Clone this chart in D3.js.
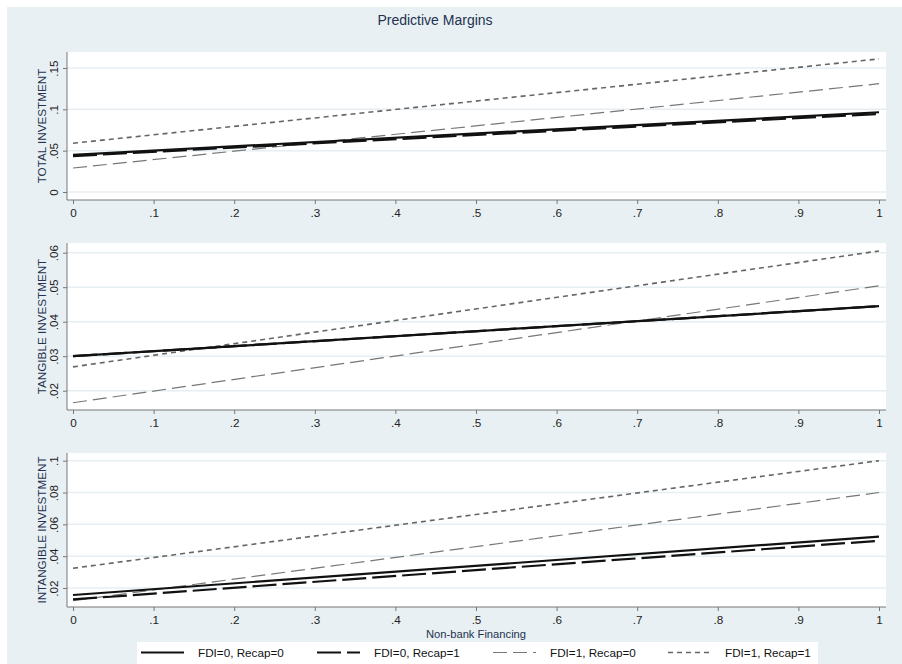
<!DOCTYPE html>
<html><head><meta charset="utf-8">
<script src="https://cdn.jsdelivr.net/npm/d3@7"></script>
<style>body{margin:0;background:#fff;}svg{display:block;font-family:"Liberation Sans",Arial,sans-serif;}</style>
</head><body><div id="chart"></div>
<script>
const xVals = [0, 1];
const xTicks = [0, .1, .2, .3, .4, .5, .6, .7, .8, .9, 1];
const seriesNames = ["FDI=0, Recap=0", "FDI=0, Recap=1", "FDI=1, Recap=0", "FDI=1, Recap=1"];
const panelTitles = ["TOTAL INVESTMENT", "TANGIBLE INVESTMENT", "INTANGIBLE INVESTMENT"];
const totalVals = [[0.045, 0.0965], [0.0435, 0.0945], [0.029, 0.131], [0.059, 0.161]];
const tangibleVals = [[0.0300, 0.0445], [0.0300, 0.0445], [0.0165, 0.0504], [0.0269, 0.0605]];
const intangibleVals = [[0.0156, 0.0523], [0.0128, 0.0497], [0.0120, 0.0800], [0.0324, 0.1000]];
const totalTicks = [0, .05, .1, .15];
const tangibleTicks = [.02, .03, .04, .05, .06];
const intangibleTicks = [.02, .04, .06, .08, .1];
const fmt = v => { let s = d3.format("")(+v.toFixed(4)); return s.replace(/^0\./, "."); };

const W = 902, H = 664, FS = 11.7;
const svg = d3.select("#chart").append("svg").attr("width", W).attr("height", H);
svg.append("rect").attr("x", 7).attr("y", 7).attr("width", W - 7).attr("height", H - 7).attr("fill", "#e8f0f3");
svg.append("text").attr("x", 435).attr("y", 25).attr("text-anchor", "middle")
  .attr("font-size", 14).attr("fill", "#23324f").text("Predictive Margins");

const styles = [
  {stroke: "#111", width: 2.2, dash: null},
  {stroke: "#111", width: 2.2, dash: "24,6"},
  {stroke: "#777", width: 1.2, dash: "14,6"},
  {stroke: "#666", width: 1.6, dash: "5,4"}
];

const left = 67, right = 886;
const x = d3.scaleLinear().domain([0, 1]).range([73, 879]);

const panels = [
  {vals: totalVals, ticks: totalTicks, dom: [0, .15], rng: [192, 68], top: 52, bot: 200},
  {vals: tangibleVals, ticks: tangibleTicks, dom: [.02, .06], rng: [390.7, 252.7], top: 243, bot: 410},
  {vals: intangibleVals, ticks: intangibleTicks, dom: [.02, .1], rng: [588, 460.7], top: 453, bot: 607}
];

panels.forEach((p, i) => {
  const y = d3.scaleLinear().domain(p.dom).range(p.rng);
  const g = svg.append("g");
  g.append("rect").attr("x", left).attr("y", p.top).attr("width", right - left).attr("height", p.bot - p.top).attr("fill", "#fff");
  g.selectAll(".grid").data(p.ticks).join("line")
    .attr("x1", left).attr("x2", right).attr("y1", d => y(d)).attr("y2", d => y(d))
    .attr("stroke", "#e6eef2").attr("stroke-width", 1.5);
  const ya = g.append("g").attr("transform", `translate(${left},0)`)
    .call(d3.axisLeft(y).tickValues(p.ticks).tickSize(4).tickFormat(fmt));
  ya.select(".domain").attr("d", `M0,${p.top}V${p.bot}`).attr("stroke", "#777");
  ya.selectAll(".tick line").attr("stroke", "#777");
  ya.selectAll(".tick text").attr("text-anchor", "middle").attr("x", 0).attr("y", 0).attr("dy", 0)
    .attr("transform", "translate(-9,0) rotate(-90)")
    .attr("font-size", FS).attr("fill", "#222").attr("font-family", "Liberation Sans, Arial, sans-serif");
  const xa = g.append("g").attr("transform", `translate(0,${p.bot})`)
    .call(d3.axisBottom(x).tickValues(xTicks).tickSize(4).tickFormat(fmt));
  xa.select(".domain").attr("d", `M${left},0H${right}`).attr("stroke", "#777");
  xa.selectAll(".tick line").attr("stroke", "#777");
  xa.selectAll(".tick text").attr("font-size", FS).attr("fill", "#222").attr("dy", "0.85em")
    .attr("font-family", "Liberation Sans, Arial, sans-serif");
  g.append("text").attr("transform", `translate(46,${(p.top + p.bot) / 2}) rotate(-90)`)
    .attr("text-anchor", "middle").attr("font-size", FS).attr("fill", "#23324f").text(panelTitles[i]);
  const line = d3.line().x((d, k) => x(xVals[k])).y(d => y(d));
  const order = [2, 3, 1, 0];
  order.forEach(s => {
    g.append("path").datum(p.vals[s]).attr("d", line).attr("fill", "none")
      .attr("stroke", styles[s].stroke).attr("stroke-width", styles[s].width)
      .attr("stroke-dasharray", styles[s].dash);
  });
});

svg.append("text").attr("x", 476).attr("y", 638).attr("text-anchor", "middle")
  .attr("font-size", 11.2).attr("fill", "#23324f").text("Non-bank Financing");

svg.append("rect").attr("x", 137).attr("y", 642).attr("width", 681).attr("height", 22).attr("fill", "#fff");
const legX = [141, 317, 493, 668];
seriesNames.forEach((n, i) => {
  svg.append("line").attr("x1", legX[i]).attr("x2", legX[i] + 43).attr("y1", 652.5).attr("y2", 652.5)
    .attr("stroke", styles[i].stroke).attr("stroke-width", styles[i].width).attr("stroke-dasharray", styles[i].dash);
  svg.append("text").attr("x", legX[i] + 57).attr("y", 656.5).attr("font-size", FS).attr("fill", "#111").text(n);
});
</script></body></html>
